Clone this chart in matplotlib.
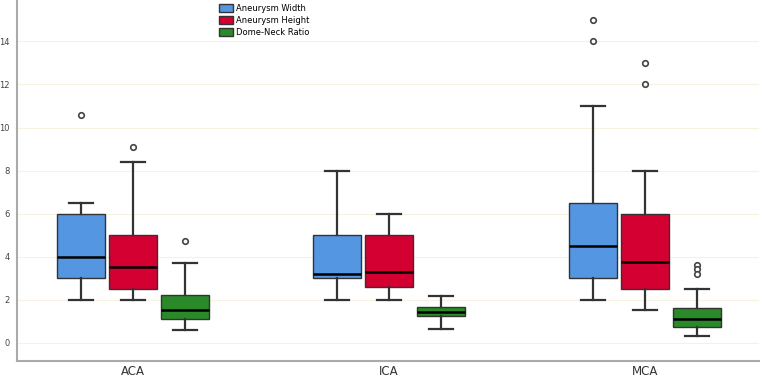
import numpy as np
import matplotlib
matplotlib.use('Agg')
import matplotlib.pyplot as plt
from matplotlib.patches import Patch

groups = ['ACA', 'ICA', 'MCA']
series = ['Aneurysm Width', 'Aneurysm Height', 'Dome-Neck Ratio']
colors = ['#5596E3', '#D50032', '#2A8A2A']

# per group, per series: (whislo, q1, med, q3, whishi)
stats = {
    'ACA': [(2.0, 3.0, 4.0, 6.0, 6.5), (2.0, 2.5, 3.5, 5.0, 8.4), (0.6, 1.1, 1.5, 2.2, 3.7)],
    'ICA': [(2.0, 3.0, 3.2, 5.0, 8.0), (2.0, 2.6, 3.3, 5.0, 6.0), (0.65, 1.25, 1.4, 1.65, 2.15)],
    'MCA': [(2.0, 3.0, 4.5, 6.5, 11.0), (1.5, 2.5, 3.75, 6.0, 8.0), (0.3, 0.7, 1.1, 1.6, 2.5)],
}
outliers = {
    'ACA': [[10.6], [9.1], [4.7]],
    'ICA': [[], [], []],
    'MCA': [[15.0, 14.0], [13.0, 12.0], [3.6, 3.4, 3.2]],
}

fig = plt.figure(figsize=(7.62, 3.77), dpi=100)
ax = fig.add_axes([17 / 762, 16 / 377, 742 / 762, 361 / 377])

offsets = [-0.203, 0.0, 0.203]
width = 0.1875
for gi, g in enumerate(groups):
    for si in range(3):
        lo, q1, med, q3, hi = stats[g][si]
        bstats = [dict(whislo=lo, q1=q1, med=med, q3=q3, whishi=hi, fliers=outliers[g][si])]
        ax.bxp(bstats, positions=[gi + offsets[si]], widths=width, patch_artist=True,
               showfliers=True,
               boxprops=dict(facecolor=colors[si], edgecolor='#333333', linewidth=1.0),
               medianprops=dict(color='black', linewidth=1.8),
               whiskerprops=dict(color='#333333', linewidth=1.6),
               capprops=dict(color='#333333', linewidth=1.6),
               capwidths=width / 2,
               flierprops=dict(marker='o', markerfacecolor='white', markeredgecolor='#444444',
                               markersize=4, markeredgewidth=1.2))

ax.set_xlim(-0.453, 2.445)
ax.set_ylim(-0.86, 15.93)
ax.set_yticks(np.arange(0, 15, 2))
ax.set_xticks(range(len(groups)))
ax.set_xticklabels(groups, fontsize=8.5, color='#333333')
ax.tick_params(axis='y', labelsize=6, colors='#444444', length=0, pad=5)
ax.tick_params(axis='x', length=0, pad=3)
for y in np.arange(0, 15, 2):
    ax.axhline(y, color='#F6F2DF', linewidth=0.8, zorder=0)
for s in ['top', 'right']:
    ax.spines[s].set_visible(False)
for s in ['left', 'bottom']:
    ax.spines[s].set_color('#AAAAAA')
    ax.spines[s].set_linewidth(1.5)

handles = [Patch(facecolor=c, edgecolor='#333333', label=l) for c, l in zip(colors, series)]
fig.legend(handles=handles, loc='upper left', bbox_to_anchor=(215 / 762, 1.0), frameon=False,
           fontsize=6, handlelength=1.6, handleheight=1.1, labelspacing=0.35, handletextpad=0.4,
           borderaxespad=0.1)

fig.savefig('out.png', dpi=100)
